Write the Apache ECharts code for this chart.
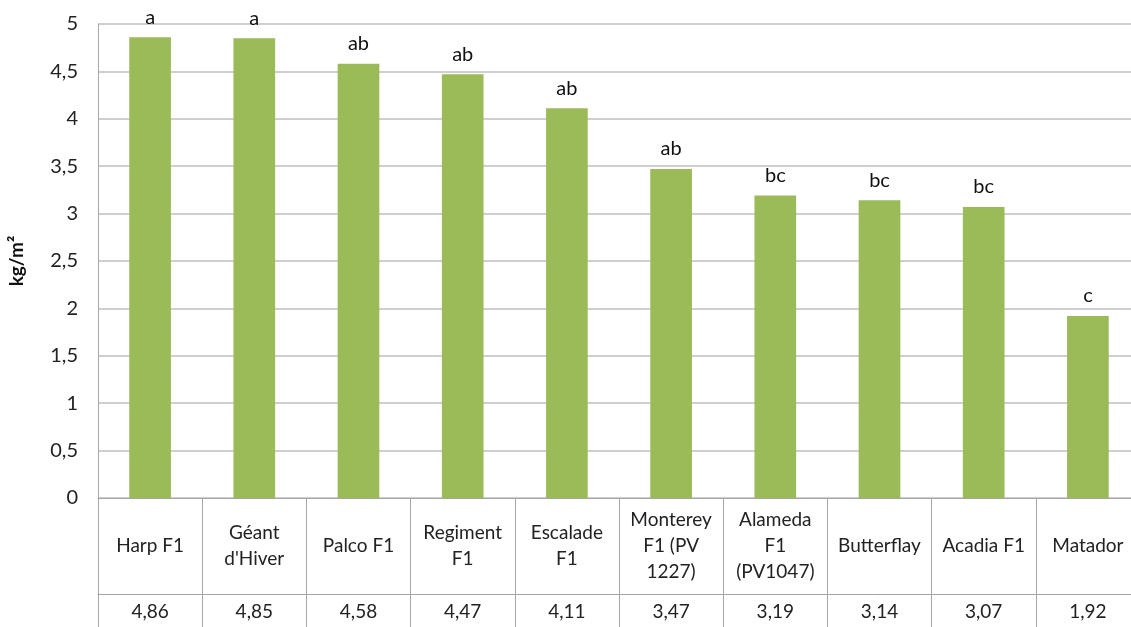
<!DOCTYPE html>
<html lang="fr">
<head>
  <meta charset="UTF-8">
  <title>Rendement kg/m²</title>
  <script src="https://cdn.jsdelivr.net/npm/echarts@6/dist/echarts.min.js"></script>
  <style>
    html, body { margin: 0; padding: 0; background: #fff; }
    #chart { width: 1131px; height: 627px; }
  </style>
</head>
<body>
<div id="chart"></div>
<script>
  // chart data
  const varieties = ['Harp F1', 'Géant\nd\'Hiver', 'Palco F1', 'Regiment\nF1', 'Escalade\nF1',
    'Monterey\nF1 (PV\n1227)', 'Alameda\nF1\n(PV1047)', 'Butterflay', 'Acadia F1', 'Matador'];
  const yields = [4.86, 4.85, 4.58, 4.47, 4.11, 3.47, 3.19, 3.14, 3.07, 1.92];
  const groups = ['a', 'a', 'ab', 'ab', 'ab', 'ab', 'bc', 'bc', 'bc', 'c'];
  const yTicks = { min: 0, max: 5, step: 0.5 };

  const fmt = v => String(v).replace('.', ',');
  const font = 'Lato, "Open Sans", sans-serif';
  const lineGrey = '#a6a6a6';

  let chart = echarts.init(document.getElementById('chart'));
  chart.setOption({
    animation: false,
    textStyle: { fontFamily: font },
    grid: { left: 98, right: -9, top: 24, bottom: 129, containLabel: false, outerBoundsMode: 'none' },
    xAxis: [{
      type: 'category',
      data: varieties,
      axisLine: { lineStyle: { color: lineGrey } },
      axisTick: { show: true, length: 129, lineStyle: { color: lineGrey } },
      axisLabel: {
        interval: 0, margin: 48, verticalAlign: 'middle',
        fontSize: 19, lineHeight: 26, color: '#222', fontFamily: font
      }
    }, {
      type: 'category',
      data: yields.map(fmt),
      position: 'bottom',
      offset: 96,
      axisLine: { lineStyle: { color: lineGrey } },
      axisTick: { show: false },
      axisLabel: {
        interval: 0, margin: 18, verticalAlign: 'middle',
        fontSize: 19, color: '#222', fontFamily: font
      }
    }],
    yAxis: {
      type: 'value',
      min: yTicks.min, max: yTicks.max, interval: yTicks.step,
      name: 'kg/m²',
      nameLocation: 'middle',
      nameGap: 72,
      nameTextStyle: { fontSize: 19, fontWeight: 'bold', color: '#111', fontFamily: font },
      axisLine: { show: true, lineStyle: { color: lineGrey } },
      axisTick: { show: false },
      axisLabel: { fontSize: 20, color: '#222', margin: 20, formatter: fmt, fontFamily: font },
      splitLine: { lineStyle: { color: '#bfbfbf', width: 1.5 } }
    },
    series: [{
      type: 'bar',
      data: yields,
      barWidth: '40%',
      itemStyle: { color: '#9bbb59' },
      label: {
        show: true, position: 'top', distance: 10,
        fontSize: 20, color: '#111', fontFamily: font,
        formatter: p => groups[p.dataIndex]
      }
    }]
  });
</script>
</body>
</html>
